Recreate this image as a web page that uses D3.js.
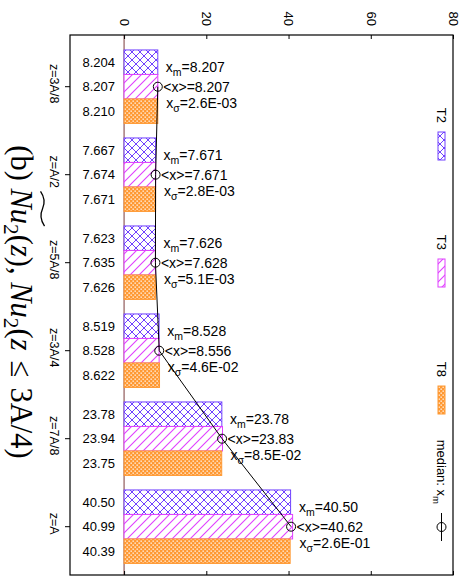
<!DOCTYPE html>
<html><head><meta charset="utf-8">
<script src="https://cdn.jsdelivr.net/npm/d3@7"></script>
<style>body{margin:0;background:#fff;} svg{display:block;}</style>
</head><body>
<script>
// ---- data ----
const categories = ["z=3A/8","z=A/2","z=5A/8","z=3A/4","z=7A/8","z=A"];
const seriesNames = ["T2","T3","T8"];
const valuesT2 = [8.204, 7.667, 7.623, 8.519, 23.78, 40.50];
const valuesT3 = [8.207, 7.674, 7.635, 8.528, 23.94, 40.99];
const valuesT8 = [8.210, 7.671, 7.626, 8.622, 23.75, 40.39];
const meanValues = [8.207, 7.671, 7.628, 8.556, 23.83, 40.62];
const medianLabels = ["8.207","7.671","7.626","8.528","23.78","40.50"];
const meanLabels = ["8.207","7.671","7.628","8.556","23.83","40.62"];
const sigmaLabels = ["2.6E-03","2.8E-03","5.1E-03","4.6E-02","8.5E-02","2.6E-01"];
const xTicks = [0,20,40,60,80];

const colors = {T2:"#7040ff", T3:"#e040ff", T8:"#ff9933"};
const sans = "'Liberation Sans', Arial, sans-serif";

const W = 465, H = 580;
const frame = {l:70, r:453, t:35, b:575};
const svg = d3.select("body").append("svg").attr("width",W).attr("height",H);

// patterns
const defs = svg.append("defs");
const p2 = defs.append("pattern").attr("id","pT2").attr("patternUnits","userSpaceOnUse").attr("width",8).attr("height",8);
p2.append("rect").attr("width",8).attr("height",8).attr("fill","#fff");
p2.append("path").attr("d","M0,0L8,8M8,0L0,8M-2,6L2,10M6,-2L10,2M-2,2L2,-2M6,10L10,6").attr("stroke",colors.T2).attr("stroke-width",1);
const p3 = defs.append("pattern").attr("id","pT3").attr("patternUnits","userSpaceOnUse").attr("width",9).attr("height",9);
p3.append("rect").attr("width",9).attr("height",9).attr("fill","#fff");
p3.append("path").attr("d","M0,9L9,0M-3,3L3,-3M6,12L12,6").attr("stroke",colors.T3).attr("stroke-width",1.1);
const p8 = defs.append("pattern").attr("id","pT8").attr("patternUnits","userSpaceOnUse").attr("width",4).attr("height",4);
p8.append("rect").attr("width",4).attr("height",4).attr("fill",colors.T8);
p8.append("rect").attr("x",0.5).attr("y",0.5).attr("width",1.3).attr("height",1.3).attr("fill","#fff");
p8.append("rect").attr("x",2.5).attr("y",2.5).attr("width",1.3).attr("height",1.3).attr("fill","#fff");

// scales
const x = d3.scaleLinear().domain([-13.15, 80]).range([frame.l, frame.r]);
const y = d3.scaleBand().domain(categories).range([42.7, 570.7]).paddingInner(0.165).paddingOuter(0.0825);
const ys = d3.scaleBand().domain(seriesNames).range([0, y.bandwidth()]);
const seriesValues = {T2:valuesT2, T3:valuesT3, T8:valuesT8};

// zero line
svg.append("line").attr("x1",x(0)).attr("x2",x(0)).attr("y1",frame.t).attr("y2",frame.b)
  .attr("stroke","#7a3a3a").attr("stroke-width",1);

// bars
categories.forEach((c,i)=>{
  seriesNames.forEach(s=>{
    const v = seriesValues[s][i];
    svg.append("rect").attr("x",x(0)).attr("y",y(c)+ys(s))
      .attr("width",x(v)-x(0)).attr("height",ys.bandwidth())
      .attr("fill","url(#p"+s+")").attr("stroke",colors[s]).attr("stroke-width",1);
    svg.append("text").attr("x",115).attr("y",y(c)+ys(s)+ys.bandwidth()/2).attr("dy","0.36em")
      .attr("text-anchor","end").attr("font-family",sans).attr("font-size",13)
      .text(v < 10 ? d3.format(".3f")(v) : d3.format(".2f")(v));
  });
});

// mean line + circles
const pts = categories.map((c,i)=>[x(meanValues[i]), y(c)+ys("T3")+ys.bandwidth()/2]);
svg.append("path").attr("d",d3.line()(pts)).attr("fill","none").attr("stroke","#000").attr("stroke-width",1);
pts.forEach(p=>svg.append("circle").attr("cx",p[0]).attr("cy",p[1]).attr("r",4.5).attr("fill","none").attr("stroke","#000").attr("stroke-width",1));

// annotations
const af = 14, sf = 10.5;
pts.forEach((p,i)=>{
  const t1 = svg.append("text").attr("x",p[0]+8).attr("y",p[1]-15).attr("font-family",sans).attr("font-size",af);
  t1.append("tspan").text("x");
  t1.append("tspan").attr("font-size",sf).attr("dy",4).text("m");
  t1.append("tspan").attr("dy",-4).text("="+medianLabels[i]);
  svg.append("text").attr("x",p[0]+5.5).attr("y",p[1]+5).attr("font-family",sans).attr("font-size",af)
    .text("<x>="+meanLabels[i]);
  const t3 = svg.append("text").attr("x",p[0]+8.5).attr("y",p[1]+21).attr("font-family",sans).attr("font-size",af);
  t3.append("tspan").text("x");
  t3.append("tspan").attr("font-size",sf).attr("dy",4).text("σ");
  t3.append("tspan").attr("dy",-4).text("="+sigmaLabels[i]);
});

// top axis
const gTop = svg.append("g").attr("transform",`translate(0,${frame.t})`)
  .call(d3.axisTop(x).tickValues(xTicks).tickSize(-4).tickFormat(d3.format("d")));
gTop.select(".domain").remove();
gTop.selectAll("line").attr("stroke","#000");
gTop.selectAll("text").attr("x",0).attr("y",0).attr("dy","0.35em")
  .attr("transform","translate(0,-9) rotate(90)").attr("text-anchor","end")
  .attr("font-family",sans).attr("font-size",13).attr("fill","#000");

// bottom ticks
const gBot = svg.append("g").attr("transform",`translate(0,${frame.b})`)
  .call(d3.axisBottom(x).tickValues(xTicks).tickSize(-4).tickFormat(""));
gBot.select(".domain").remove();
gBot.selectAll("line").attr("stroke","#000");

// left axis with categories
const gLeft = svg.append("g").attr("transform",`translate(${frame.l},0)`)
  .call(d3.axisLeft(y).tickSize(5).tickSizeOuter(0));
gLeft.select(".domain").remove();
gLeft.selectAll("line").attr("stroke","#000");
gLeft.selectAll("text").attr("x",0).attr("y",0).attr("dy","0.35em")
  .attr("transform","translate(-16,-3) rotate(90)").attr("text-anchor","middle")
  .attr("font-family",sans).attr("font-size",12.5).attr("fill","#000");

// frame
svg.append("rect").attr("x",frame.l).attr("y",frame.t).attr("width",frame.r-frame.l).attr("height",frame.b-frame.t)
  .attr("fill","none").attr("stroke","#000").attr("stroke-width",1.2);

// legend
const legendNames = ["T2","T3","T8"];
const legStart = 132, legStep = 127, legLen = 28, legX = 441.5;
legendNames.forEach((s,i)=>{
  const y0 = legStart + i*legStep;
  svg.append("text").attr("transform",`translate(${legX},${y0-9}) rotate(90)`).attr("dy","0.35em")
    .attr("text-anchor","end").attr("font-family",sans).attr("font-size",13).text(s);
  svg.append("rect").attr("x",legX-3.5).attr("y",y0).attr("width",7).attr("height",legLen)
    .attr("fill","url(#p"+s+")").attr("stroke",colors[s]).attr("stroke-width",1);
});
{
  const y0 = legStart + 3*legStep;
  const t = svg.append("text").attr("transform",`translate(${legX},${y0-9}) rotate(90)`).attr("dy","0.35em")
    .attr("text-anchor","end").attr("font-family",sans).attr("font-size",13);
  t.append("tspan").text("median: x");
  t.append("tspan").attr("font-size",9.5).attr("dy",4).text("m");
  svg.append("line").attr("x1",legX).attr("x2",legX).attr("y1",y0).attr("y2",y0+legLen).attr("stroke","#000");
  svg.append("circle").attr("cx",legX).attr("cy",y0+legLen/2).attr("r",4.5).attr("fill","none").attr("stroke","#000");
}

// title
const serif = "'Liberation Serif', 'Times New Roman', serif";
const fT = 30.5;
const tg = svg.append("g").attr("transform","translate(10.5,302) rotate(90)");
const tt = tg.append("text").attr("text-anchor","middle").attr("font-family",serif).attr("font-size",fT);
const subS = fT*0.7, subD = fT*0.2;
tt.append("tspan").text("(b) ");
tt.append("tspan").attr("font-style","italic").text("Nu");
tt.append("tspan").attr("font-size",subS).attr("dy",subD).text("2");
tt.append("tspan").attr("dy",-subD).text("(");
tt.append("tspan").attr("font-style","italic").text("z");
tt.append("tspan").text("), ");
tt.append("tspan").attr("font-style","italic").text("Nu");
tt.append("tspan").attr("font-size",subS).attr("dy",subD).text("2");
tt.append("tspan").attr("dy",-subD).text("(");
tt.append("tspan").attr("font-style","italic").text("z");
tt.append("tspan").text("\u2004≤\u20043A/4)");
// tilde over first "Nu"
const node = tt.node();
const xs = node.getStartPositionOfChar(4).x + 3, xe = node.getEndPositionOfChar(5).x + 2;
const ty = -fT*1.05;
const wv = xe - xs;
tg.append("path").attr("d",`M${xs},${ty+2} Q${xs+wv*0.25},${ty-4} ${xs+wv*0.5},${ty} Q${xs+wv*0.75},${ty+4} ${xe},${ty-2}`)
  .attr("fill","none").attr("stroke","#000").attr("stroke-width",1.3);
</script>
</body></html>
